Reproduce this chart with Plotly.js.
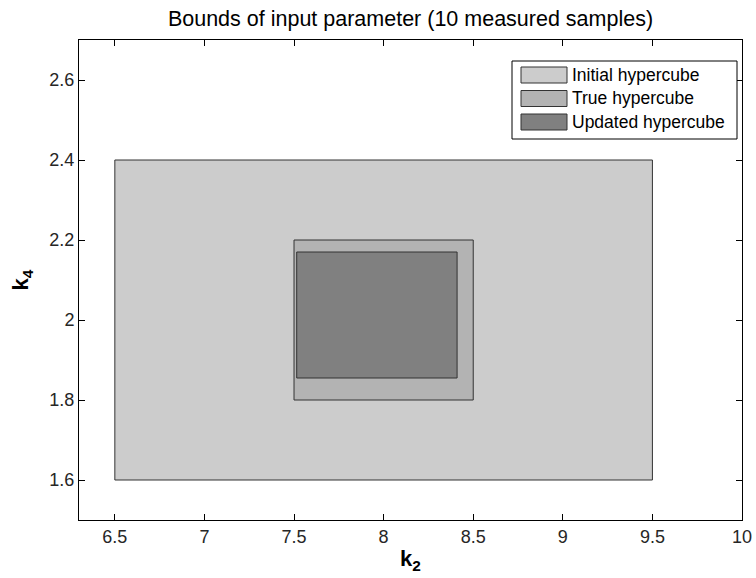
<!DOCTYPE html>
<html>
<head>
<meta charset="utf-8">
<script src="https://cdn.plot.ly/plotly-3.0.1.min.js"></script>
<style>html,body{margin:0;padding:0;background:#fff;}#chart{width:756px;height:578px;}</style>
</head>
<body>
<div id="chart"></div>
<script>
// Data
var names = ["Initial hypercube", "True hypercube", "Updated hypercube"];
var k2Min = [6.5, 7.5, 7.515];
var k2Max = [9.5, 8.5, 8.41];
var k4Min = [1.6, 1.8, 1.855];
var k4Max = [2.4, 2.2, 2.17];
var fillColors = ["#cccccc", "#b3b3b3", "#808080"];
var xTicks = [6.5, 7, 7.5, 8, 8.5, 9, 9.5, 10];
var yTicks = [1.6, 1.8, 2, 2.2, 2.4, 2.6];

var FONT = "Liberation Sans, Arial, sans-serif";
var W = 756, H = 578;
var M = {l: 79, r: 14, t: 40, b: 58};
var pw = W - M.l - M.r, ph = H - M.t - M.b;
function px(x) { return (x - M.l) / pw; }
function py(y) { return (H - M.b - y) / ph; }

var traces = names.map(function (n, i) {
  return {
    type: "scatter",
    mode: "lines",
    name: n,
    x: [k2Min[i], k2Max[i], k2Max[i], k2Min[i], k2Min[i]],
    y: [k4Min[i], k4Min[i], k4Max[i], k4Max[i], k4Min[i]],
    fill: "toself",
    fillcolor: fillColors[i],
    line: {color: "#333333", width: 1},
    hoverinfo: "skip",
    showlegend: false
  };
});

// Manual legend (MATLAB style) in paper coordinates
var shapes = [{
  type: "rect", xref: "paper", yref: "paper",
  x0: px(512), x1: px(737), y0: py(139), y1: py(61),
  fillcolor: "#ffffff", line: {color: "#000000", width: 1}, layer: "above"
}];
var annotations = [];
var rowY = [75, 98.5, 122];
names.forEach(function (n, i) {
  shapes.push({
    type: "rect", xref: "paper", yref: "paper",
    x0: px(521), x1: px(567), y0: py(rowY[i] + 8), y1: py(rowY[i] - 8),
    fillcolor: fillColors[i], line: {color: "#333333", width: 1}, layer: "above"
  });
  annotations.push({
    xref: "paper", yref: "paper", x: px(570), y: py(rowY[i]),
    xanchor: "left", yanchor: "middle", showarrow: false,
    text: n, font: {family: FONT, size: 17.5, color: "#000000"}
  });
});

var axisCommon = {
  showgrid: false,
  zeroline: false,
  showline: true,
  linecolor: "#000000",
  linewidth: 1,
  mirror: "ticks",
  ticks: "inside",
  ticklen: 6,
  tickcolor: "#000000",
  tickfont: {family: FONT, size: 18, color: "#262626"}
};

var layout = {
  width: W,
  height: H,
  margin: M,
  paper_bgcolor: "#ffffff",
  plot_bgcolor: "#ffffff",
  font: {family: FONT, color: "#000000"},
  title: {
    text: "Bounds of input parameter (10 measured samples)",
    font: {family: FONT, size: 21.5, color: "#000000"},
    xref: "paper", x: 0.5, xanchor: "center",
    yref: "container", y: 1 - 18 / H, yanchor: "middle"
  },
  xaxis: Object.assign({}, axisCommon, {
    range: [6.3, 10],
    tickvals: xTicks,
    ticktext: xTicks.map(String),
    title: {text: "<b>k<sub>2</sub></b>", font: {size: 22, family: FONT, color: "#000"}, standoff: 5}
  }),
  yaxis: Object.assign({}, axisCommon, {
    range: [1.5, 2.7],
    tickvals: yTicks,
    ticktext: yTicks.map(String),
    title: {text: "<b>k<sub>4</sub></b>", font: {size: 22, family: FONT, color: "#000"}, standoff: 14}
  }),
  showlegend: false,
  shapes: shapes,
  annotations: annotations
};

Plotly.newPlot("chart", traces, layout, {displayModeBar: false, staticPlot: true});
</script>
</body>
</html>
